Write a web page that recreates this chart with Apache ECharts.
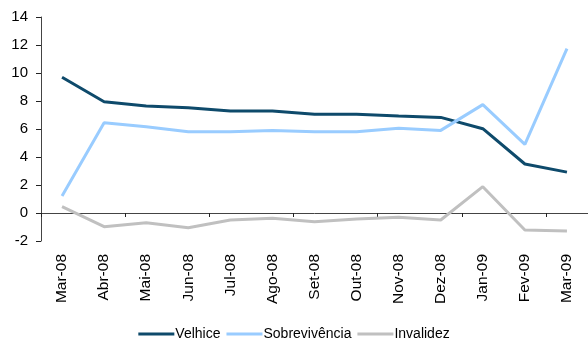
<!DOCTYPE html>
<html><head><meta charset="utf-8">
<script src="https://cdn.jsdelivr.net/npm/echarts@6/dist/echarts.min.js"></script>
<style>html,body{margin:0;padding:0;background:#fff}#c{width:588px;height:349px}</style>
</head><body><div id="c"></div>
<script>
const categories = ["Mar-08","Abr-08","Mai-08","Jun-08","Jul-08","Ago-08","Set-08","Out-08","Nov-08","Dez-08","Jan-09","Fev-09","Mar-09"];
const velhice = [9.7, 7.95, 7.64, 7.52, 7.29, 7.29, 7.05, 7.05, 6.93, 6.83, 6.02, 3.5, 2.92];
const sobrevivencia = [1.21, 6.45, 6.16, 5.81, 5.81, 5.9, 5.81, 5.81, 6.05, 5.9, 7.74, 4.9, 11.74];
const invalidez = [0.45, -0.98, -0.69, -1.05, -0.5, -0.38, -0.62, -0.43, -0.31, -0.5, 1.88, -1.21, -1.29];
const yTicks = {min: -2, max: 14, interval: 2};

const font = 'Liberation Sans, Arial, sans-serif';
const chart = echarts.init(document.getElementById('c'));
chart.setOption({
  animation: false,
  backgroundColor: '#fff',
  textStyle: {fontFamily: font},
  grid: {left: 41, top: 17, width: 548, height: 224, containLabel: false},
  legend: {
    bottom: 3, left: 'center',
    icon: 'rect', itemWidth: 36, itemHeight: 3, itemGap: 6,
    textStyle: {fontFamily: font, fontSize: 14, color: '#000', padding: [0, 0, 0, -4]},
    data: ['Velhice', 'Sobrevivência', 'Invalidez']
  },
  xAxis: [
    {
      type: 'category', data: categories, position: 'top', boundaryGap: true,
      axisLine: {onZero: true, lineStyle: {color: '#444', width: 1}},
      axisTick: {show: true, inside: true, length: 4, lineStyle: {color: '#222'}},
      axisLabel: {show: false}, splitLine: {show: false}
    },
    {
      type: 'category', data: categories, position: 'bottom', boundaryGap: true,
      axisLine: {show: false, onZero: false}, axisTick: {show: false},
      axisLabel: {rotate: 90, fontSize: 15.5, color: '#000', fontFamily: font, margin: 13, interval: 0},
      splitLine: {show: false}
    }
  ],
  yAxis: {
    type: 'value', min: yTicks.min, max: yTicks.max, interval: yTicks.interval,
    axisLine: {show: true, lineStyle: {color: '#444'}},
    axisTick: {show: true, length: 5, lineStyle: {color: '#222'}},
    axisLabel: {fontSize: 15, color: '#000', fontFamily: font, margin: 13},
    splitLine: {show: false}
  },
  series: [
    {name: 'Velhice', type: 'line', data: velhice, xAxisIndex: 0, showSymbol: false, symbol: 'none',
     lineStyle: {color: '#0e4a6b', width: 3}, itemStyle: {color: '#0e4a6b'}},
    {name: 'Sobrevivência', type: 'line', data: sobrevivencia, xAxisIndex: 0, showSymbol: false, symbol: 'none',
     lineStyle: {color: '#99ccff', width: 3}, itemStyle: {color: '#99ccff'}},
    {name: 'Invalidez', type: 'line', data: invalidez, xAxisIndex: 0, showSymbol: false, symbol: 'none',
     lineStyle: {color: '#c0c0c0', width: 3}, itemStyle: {color: '#c0c0c0'}}
  ]
});
</script></body></html>
